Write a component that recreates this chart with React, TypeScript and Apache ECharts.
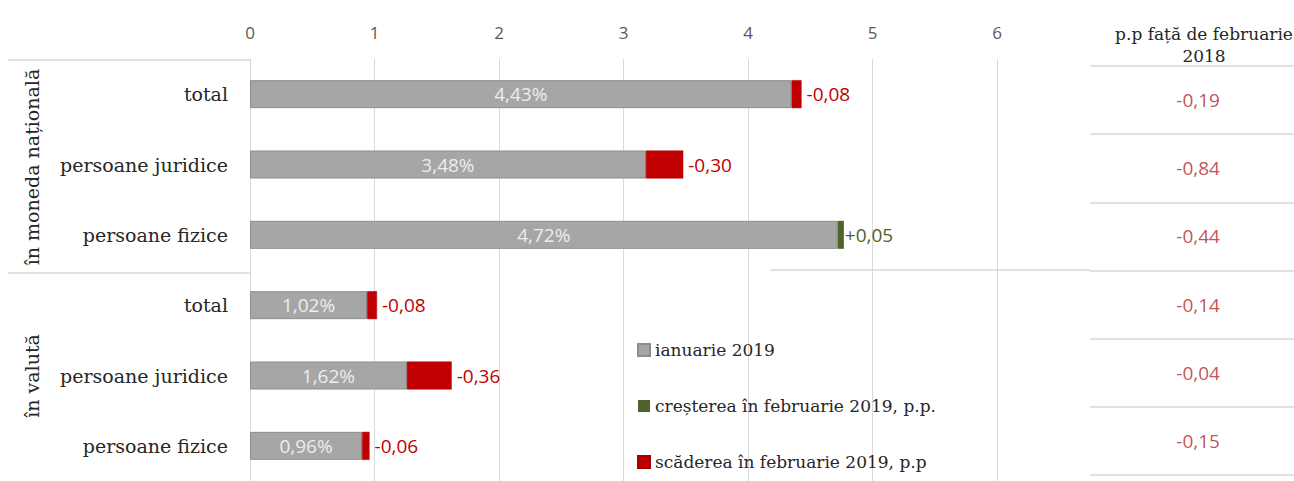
import React, { useEffect, useRef } from "react";
import * as echarts from "echarts";

const categories = ["total", "persoane juridice", "persoane fizice", "total", "persoane juridice", "persoane fizice"];
const january = [4.43, 3.48, 4.72, 1.02, 1.62, 0.96];
const changeFeb = [-0.08, -0.3, 0.05, -0.08, -0.36, -0.06];
const vsFeb2018 = [-0.19, -0.84, -0.44, -0.14, -0.04, -0.15];
const xTicks = [0, 1, 2, 3, 4, 5, 6];
const groupLabels = ["în moneda națională", "în valută"];
const seriesNames = ["ianuarie 2019", "creșterea în februarie 2019, p.p.", "scăderea în februarie 2019, p.p"];
const tableHeader = "p.p față de februarie\n2018";

const fmt = (v: number) => v.toFixed(2).replace(".", ",");

export default function App() {
  const ref = useRef<HTMLDivElement>(null);
  useEffect(() => {
    if (!ref.current) return;
    const chart = echarts.init(ref.current, null, { renderer: "svg" });
    const base = january.map((v, i) => +(v + Math.min(0, changeFeb[i])).toFixed(2));
    const inc = changeFeb.map((c) => (c > 0 ? c : "-"));
    const dec = changeFeb.map((c) => (c < 0 ? +(-c).toFixed(2) : "-"));
    const serif = "DejaVu Serif";
    const sans = "Open Sans";
    const gridLine = "#d9d9d9";
    chart.setOption({
      animation: false,
      backgroundColor: "#ffffff",
      title: {
        text: tableHeader,
        left: 1199,
        top: 18,
        textAlign: "center",
        textStyle: { fontFamily: serif, fontSize: 17, fontWeight: "normal", color: "#262626", lineHeight: 22 },
      },
      legend: {
        orient: "vertical",
        left: 637,
        top: 340,
        height: 200,
        padding: 0,
        itemWidth: 12,
        itemHeight: 12,
        itemGap: 36,
        icon: "rect",
        data: seriesNames,
        textStyle: { fontFamily: serif, fontSize: 17, color: "#262626", lineHeight: 20 },
      },
      grid: [
        { left: 250, top: 59, width: 747, height: 429 },
        { left: 1090, top: 66, width: 204, height: 409 },
      ],
      xAxis: [
        {
          type: "value",
          gridIndex: 0,
          position: "top",
          min: 0,
          max: 6,
          interval: 1,
          axisLine: { show: false },
          axisTick: { show: false },
          axisLabel: {
            color: "#595959",
            fontFamily: sans,
            fontSize: 17,
            margin: 18,
            formatter: (v: number) => (xTicks.includes(v) ? String(v) : ""),
          },
          splitLine: { show: true, lineStyle: { color: gridLine, width: 1 } },
        },
        { type: "value", gridIndex: 1, min: 0, max: 1, show: false },
      ],
      yAxis: [
        {
          type: "category",
          gridIndex: 0,
          data: categories,
          inverse: true,
          axisLine: { show: true, lineStyle: { color: gridLine } },
          axisTick: { show: false },
          axisLabel: { color: "#262626", fontFamily: serif, fontSize: 19, margin: 22 },
        },
        {
          type: "category",
          gridIndex: 1,
          data: categories,
          inverse: true,
          axisLine: { show: false },
          axisTick: { show: false },
          axisLabel: { show: false },
          splitLine: { show: true, lineStyle: { color: gridLine, width: 1.5 } },
        },
      ],
      series: [
        {
          name: seriesNames[0],
          type: "bar",
          stack: "a",
          xAxisIndex: 0,
          yAxisIndex: 0,
          barWidth: 28,
          data: base,
          itemStyle: { color: "#a6a6a6", borderColor: "#8c8c8c", borderWidth: 1 },
          label: {
            show: true,
            position: "inside",
            color: "#ededed",
            fontFamily: sans,
            fontSize: 19,
            formatter: (p: any) => fmt(january[p.dataIndex]) + "%",
          },
        },
        {
          name: seriesNames[1],
          type: "bar",
          stack: "a",
          xAxisIndex: 0,
          yAxisIndex: 0,
          barWidth: 28,
          data: inc,
          itemStyle: { color: "#4f6228" },
          label: {
            show: true,
            position: "right",
            distance: 1,
            color: "#4f6228",
            fontFamily: sans,
            fontSize: 19,
            formatter: (p: any) => "+" + fmt(changeFeb[p.dataIndex]),
          },
        },
        {
          name: seriesNames[2],
          type: "bar",
          stack: "a",
          xAxisIndex: 0,
          yAxisIndex: 0,
          barWidth: 28,
          data: dec,
          itemStyle: { color: "#c00000", borderColor: "#a80000", borderWidth: 0.5 },
          label: {
            show: true,
            position: "right",
            distance: 5,
            color: "#c00000",
            fontFamily: sans,
            fontSize: 19,
            formatter: (p: any) => fmt(changeFeb[p.dataIndex]),
          },
        },
        {
          name: "table",
          type: "scatter",
          xAxisIndex: 1,
          yAxisIndex: 1,
          symbolSize: 1,
          itemStyle: { color: "rgba(0,0,0,0)" },
          data: vsFeb2018.map((v, i) => [0.53, i]),
          label: {
            show: true,
            position: "inside",
            color: "#b3262a",
            fontFamily: sans,
            fontSize: 19,
            formatter: (p: any) => fmt(vsFeb2018[p.dataIndex]),
          },
        },
      ],
      graphic: [
        { type: "line", shape: { x1: 8, y1: 60, x2: 250, y2: 60 }, style: { stroke: gridLine, lineWidth: 1.5 } },
        { type: "line", shape: { x1: 8, y1: 273, x2: 250, y2: 273 }, style: { stroke: gridLine, lineWidth: 1.5 } },
        { type: "line", shape: { x1: 770, y1: 270, x2: 1090, y2: 270 }, style: { stroke: gridLine, lineWidth: 1.5 } },
        {
          type: "text",
          x: 32,
          y: 167,
          rotation: Math.PI / 2,
          style: {
            text: groupLabels[0],
            align: "center",
            verticalAlign: "middle",
            fontFamily: serif,
            fontSize: 19,
            fill: "#262626",
          },
        },
        {
          type: "text",
          x: 32,
          y: 376,
          rotation: Math.PI / 2,
          style: {
            text: groupLabels[1],
            align: "center",
            verticalAlign: "middle",
            fontFamily: serif,
            fontSize: 19,
            fill: "#262626",
          },
        },
      ],
    });
    return () => chart.dispose();
  }, []);
  return (
    <div
      ref={ref}
      style={{ position: "fixed", left: 0, top: 0, width: 1294, height: 481, background: "#fff" }}
    />
  );
}
